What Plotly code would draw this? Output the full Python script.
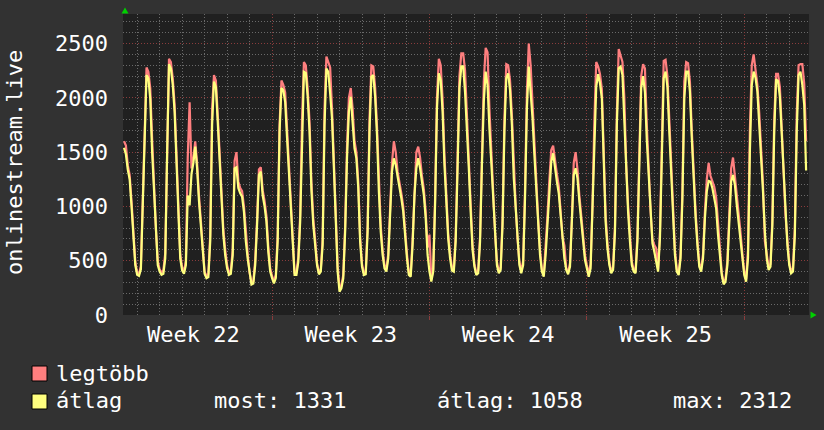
import pandas as pd
import plotly.graph_objects as go

# ---------------- data ----------------
series_start = "2024-05-27 10:00"      # first sample time
step = "2h"                            # sample spacing
x_range = ["2024-05-27 08:54", "2024-06-26 21:06"]
week_starts = ["2024-05-27", "2024-06-03", "2024-06-10", "2024-06-17"]

# "legtöbb" (max) per day, 2-hour samples
legtobb_daily = [
    [1600, 1560, 1380, 1290, 1050, 720, 490],
    [390, 380, 450, 1060, 1550, 2280, 2240, 2090, 1620, 1180, 790, 500],
    [420, 390, 410, 570, 1600, 2360, 2330, 2180, 1940, 1380, 1010, 560],
    [440, 400, 500, 1450, 1960, 1350, 1450, 1600, 1400, 1100, 850, 570],
    [400, 360, 380, 740, 1900, 2210, 2160, 1850, 1480, 1140, 790, 600],
    [460, 390, 410, 600, 1420, 1500, 1230, 1170, 1140, 1000, 730, 560],
    [390, 300, 310, 500, 880, 1340, 1360, 1150, 1050, 910, 630, 430],
    [360, 310, 370, 740, 1750, 2160, 2120, 2050, 1720, 1380, 990, 700],
    [390, 390, 530, 920, 1800, 2330, 2300, 2090, 1780, 1230, 890, 690],
    [480, 390, 420, 700, 1900, 2380, 2320, 2280, 1900, 1450, 900, 450],
    [250, 270, 370, 820, 1550, 2000, 2090, 1900, 1600, 1500, 1230, 720],
    [470, 390, 400, 830, 1800, 2300, 2290, 2100, 1740, 1220, 820, 600],
    [460, 420, 560, 980, 1400, 1600, 1500, 1320, 1230, 1120, 1000, 750],
    [560, 390, 380, 700, 1200, 1500, 1550, 1450, 1280, 1160, 950, 620],
    [740, 330, 420, 1070, 2000, 2360, 2300, 1990, 1470, 1040, 750, 560],
    [440, 420, 730, 1450, 2200, 2410, 2410, 2250, 1800, 1450, 1020, 650],
    [470, 390, 410, 720, 1480, 2150, 2460, 2420, 1900, 1460, 1150, 760],
    [490, 400, 440, 880, 1800, 2310, 2300, 2160, 1840, 1340, 1010, 700],
    [490, 400, 500, 1150, 2050, 2500, 2300, 1950, 1560, 1250, 890, 600],
    [420, 370, 600, 920, 1250, 1520, 1560, 1400, 1300, 1190, 990, 720],
    [640, 430, 390, 480, 880, 1400, 1500, 1340, 1100, 910, 720, 550],
    [460, 380, 470, 1010, 1780, 2330, 2290, 2220, 2080, 1480, 920, 660],
    [490, 400, 440, 820, 1850, 2450, 2400, 2330, 2000, 1380, 1010, 720],
    [490, 420, 410, 740, 1550, 2200, 2310, 2270, 1750, 1340, 960, 700],
    [645, 614, 420, 760, 1500, 2340, 2350, 2200, 1800, 1430, 950, 600],
    [420, 390, 560, 1150, 2150, 2330, 2320, 2150, 1700, 1300, 960, 690],
    [470, 420, 560, 950, 1250, 1400, 1280, 1230, 1180, 1080, 820, 600],
    [390, 300, 330, 500, 920, 1350, 1450, 1290, 1080, 920, 760, 560],
    [400, 330, 600, 1700, 2300, 2400, 2280, 2120, 1860, 1580, 1200, 680],
    [560, 440, 470, 880, 1800, 2220, 2220, 2100, 1720, 1300, 920, 700],
    [490, 400, 430, 800, 1850, 2300, 2310, 2310, 2130, 1600],
]

# "átlag" (average) per day, 2-hour samples
atlag_daily = [
    [1540, 1480, 1340, 1250, 1000, 680, 460],
    [370, 360, 420, 1010, 1450, 2210, 2180, 1990, 1500, 1110, 740, 460],
    [400, 370, 380, 520, 1500, 2310, 2270, 2120, 1870, 1300, 950, 520],
    [410, 380, 460, 1100, 1010, 1300, 1400, 1550, 1350, 1050, 800, 530],
    [380, 340, 350, 680, 1750, 2150, 2100, 1780, 1410, 1080, 740, 550],
    [430, 370, 380, 550, 1350, 1360, 1170, 1120, 1090, 950, 680, 520],
    [370, 280, 290, 460, 830, 1290, 1320, 1100, 1000, 860, 580, 400],
    [340, 290, 340, 680, 1690, 2090, 2070, 1960, 1630, 1290, 920, 650],
    [370, 370, 490, 860, 1720, 2240, 2230, 2010, 1690, 1150, 830, 645],
    [460, 375, 400, 645, 1750, 2270, 2240, 2040, 1810, 1350, 830, 400],
    [215, 246, 338, 768, 1443, 1873, 2010, 1810, 1535, 1443, 1167, 675],
    [445, 368, 375, 768, 1689, 2195, 2210, 2011, 1658, 1136, 768, 553],
    [430, 400, 522, 921, 1320, 1443, 1382, 1274, 1182, 1075, 952, 706],
    [522, 368, 353, 645, 1105, 1351, 1443, 1351, 1197, 1105, 890, 553],
    [400, 307, 400, 1013, 1903, 2226, 2164, 1873, 1382, 982, 706, 522],
    [410, 400, 680, 1350, 2090, 2290, 2290, 2050, 1620, 1350, 950, 600],
    [445, 368, 384, 675, 1382, 1965, 2241, 2118, 1719, 1382, 1075, 706],
    [460, 384, 414, 829, 1689, 2180, 2226, 2072, 1750, 1259, 952, 645],
    [460, 384, 460, 1075, 1903, 2287, 2057, 1811, 1474, 1167, 829, 553],
    [400, 353, 553, 860, 1167, 1412, 1489, 1335, 1228, 1120, 921, 675],
    [522, 414, 375, 445, 829, 1290, 1351, 1259, 1044, 860, 675, 506],
    [430, 353, 430, 952, 1658, 2103, 2217, 2134, 1996, 1382, 860, 614],
    [460, 384, 414, 768, 1750, 2272, 2287, 2210, 1811, 1259, 952, 675],
    [460, 400, 384, 680, 1450, 2090, 2200, 2050, 1610, 1260, 890, 660],
    [583, 491, 400, 706, 1382, 2180, 2241, 2103, 1689, 1351, 890, 553],
    [400, 368, 522, 1075, 1996, 2241, 2241, 2057, 1627, 1228, 906, 645],
    [445, 400, 522, 890, 1136, 1234, 1228, 1167, 1090, 982, 737, 553],
    [368, 282, 307, 460, 860, 1228, 1290, 1197, 1013, 860, 706, 522],
    [368, 307, 522, 1504, 2118, 2241, 2186, 2057, 1781, 1504, 1136, 768],
    [522, 414, 445, 829, 1689, 2170, 2155, 2011, 1658, 1228, 860, 645],
    [460, 384, 400, 737, 1689, 2210, 2241, 2118, 1934, 1331],
]

y_ticks = [0, 500, 1000, 1500, 2000, 2500]
y_max = 2772
y_title = "onlinestream.live"
legend_names = ["legtöbb", "átlag"]
stat_labels = ["most: 1331", "átlag: 1058", "max: 2312"]

# ---------------- styling ----------------
RED = "#ff7f7f"
YEL = "#ffff7f"
PAPER = "#323232"
PLOT = "#202020"
GRID = "#6a6a6a"
MGRID = "#8a3c3c"
FONT = "DejaVu Sans Mono"
TXT = "#ffffff"

W, H = 824, 430
L, R, T, B = 123, 15, 14, 115
pw, ph = W - L - R, H - T - B


def px(x):
    return (x - L) / pw


def py(y):
    return (H - B - y) / ph


legtobb = [v for row in legtobb_daily for v in row]
atlag = [v for row in atlag_daily for v in row]
times = pd.date_range(series_start, periods=len(atlag), freq=step)

week_ts = [pd.Timestamp(w) for w in week_starts]
week_mid = [w + pd.Timedelta(hours=84) for w in week_ts]
week_txt = [f"Week {w.isocalendar().week}" for w in week_ts]

fig = go.Figure()
fig.add_trace(go.Scatter(x=times, y=legtobb, mode="lines", name=legend_names[0],
                         line=dict(color=RED, width=2.2), xaxis="x", yaxis="y"))
fig.add_trace(go.Scatter(x=times, y=atlag, mode="lines", name=legend_names[1],
                         line=dict(color=YEL, width=2.2), xaxis="x2", yaxis="y"))

fig.update_layout(
    width=W, height=H,
    margin=dict(l=L, r=R, t=T, b=B),
    paper_bgcolor=PAPER, plot_bgcolor=PLOT,
    showlegend=False,
    font=dict(family=FONT, size=22, color=TXT),
    xaxis=dict(
        type="date", range=x_range, tick0=week_starts[0], dtick=7 * 86400000,
        showticklabels=False, showgrid=True, gridcolor=MGRID, griddash="1px,2px",
        gridwidth=1, ticks="outside", ticklen=4, tickcolor=MGRID, zeroline=False,
        minor=dict(tick0=week_starts[0], dtick=86400000, showgrid=True,
                   gridcolor=GRID, griddash="1px,2px", gridwidth=1),
        fixedrange=True,
    ),
    xaxis2=dict(
        type="date", range=x_range, overlaying="x", anchor="y", side="bottom",
        tickmode="array", tickvals=week_mid, ticktext=week_txt,
        showgrid=False, ticks="", zeroline=False,
        tickfont=dict(family=FONT, size=22, color=TXT), ticklabelstandoff=4,
    ),
    yaxis=dict(
        range=[0, y_max], tickmode="array", tickvals=y_ticks,
        showgrid=True, gridcolor=MGRID, griddash="1px,2px", gridwidth=1,
        zeroline=False, ticks="", ticklabelstandoff=14,
        tickfont=dict(family=FONT, size=22, color=TXT),
        minor=dict(tick0=0, dtick=100, showgrid=True, gridcolor=GRID,
                   griddash="1px,2px", gridwidth=1),
    ),
)

shapes = []
# arrows
shapes.append(dict(type="path", xref="paper", yref="paper",
                   path=f"M {px(121.5)},{py(13.5)} L {px(128.5)},{py(13.5)} L {px(125)},{py(7.5)} Z",
                   fillcolor="#00d000", line=dict(width=0)))
shapes.append(dict(type="path", xref="paper", yref="paper",
                   path=f"M {px(810.5)},{py(311.5)} L {px(810.5)},{py(318.5)} L {px(816.5)},{py(315)} Z",
                   fillcolor="#00d000", line=dict(width=0)))
# legend swatches
for yy, col in [(366, RED), (394, YEL)]:
    shapes.append(dict(type="rect", xref="paper", yref="paper",
                       x0=px(32), x1=px(47), y0=py(yy), y1=py(yy + 15),
                       fillcolor=col, line=dict(color="#000000", width=1)))
fig.update_layout(shapes=shapes)

ann = []
ann.append(dict(text=y_title, xref="paper", yref="paper", x=px(14), y=py(163),
                xanchor="center", yanchor="middle", textangle=-90, showarrow=False,
                font=dict(family=FONT, size=22, color=TXT)))
ann.append(dict(text=legend_names[0], xref="paper", yref="paper", x=px(54), y=py(373),
                xanchor="left", yanchor="middle", showarrow=False,
                font=dict(family=FONT, size=22, color=TXT)))
ann.append(dict(text=legend_names[1], xref="paper", yref="paper", x=px(54), y=py(401),
                xanchor="left", yanchor="middle", showarrow=False,
                font=dict(family=FONT, size=22, color=TXT)))
for xx, s in zip([212, 435, 671], stat_labels):
    ann.append(dict(text=s, xref="paper", yref="paper", x=px(xx), y=py(401),
                    xanchor="left", yanchor="middle", showarrow=False,
                    font=dict(family=FONT, size=22, color=TXT)))
fig.update_layout(annotations=ann)

fig.write_html("out.html")
